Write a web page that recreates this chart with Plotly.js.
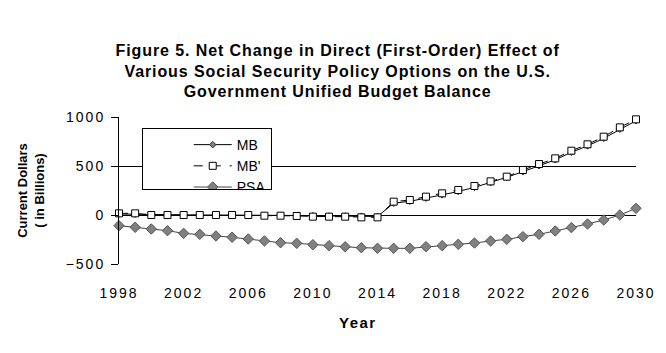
<!DOCTYPE html>
<html>
<head>
<meta charset="utf-8">
<script src="https://cdn.plot.ly/plotly-3.0.1.min.js"></script>
<style>
html,body{margin:0;padding:0;background:#fff;}
#chart{width:666px;height:353px;}
.legend .scrollbar{display:none;}
.gtitle{letter-spacing:0.9px;}
.xtick text,.ytick text{letter-spacing:2px;}
.annotation-text{letter-spacing:1.5px;}
</style>
</head>
<body>
<div id="chart"></div>
<script>
const years = [1998,1999,2000,2001,2002,2003,2004,2005,2006,2007,2008,2009,2010,2011,2012,2013,2014,2015,2016,2017,2018,2019,2020,2021,2022,2023,2024,2025,2026,2027,2028,2029,2030];
const mb = [10,8,0,0,0,0,0,0,-2,-3,-5,-5,-8,-10,-10,-12,-15,120,140,172,206,240,282,330,385,442,502,563,640,705,782,876,962];
const mbPrime = [17,17,0,0,0,0,0,0,0,-7,-7,-10,-17,-17,-17,-24,-24,136,153,187,221,255,296,343,391,459,520,578,656,721,799,894,976];
const psa = [-109,-125,-143,-160,-187,-197,-214,-227,-245,-265,-283,-289,-303,-313,-324,-334,-340,-340,-340,-323,-313,-299,-286,-265,-248,-221,-197,-163,-129,-92,-51,0,68];
const seriesNames = ["MB","MB'","PSA"];
const xTickVals = [1998,2002,2006,2010,2014,2018,2022,2026,2030];
const yTickVals = [-500,0,500,1000];

const font = 'Arial, "Liberation Sans", sans-serif';

const traces = [
  {x: years, y: mb, name: seriesNames[0], type: 'scatter', mode: 'lines+markers',
   line: {color: '#000', width: 1}, cliponaxis: false,
   marker: {symbol: 'diamond', size: 5, color: '#808080', line: {color: '#333', width: 1}}},
  {x: years, y: mbPrime, name: seriesNames[1], type: 'scatter', mode: 'lines+markers',
   line: {color: '#000', width: 1, dash: 'dash'}, cliponaxis: false,
   marker: {symbol: 'square', size: 7, color: '#fff', line: {color: '#000', width: 1}}},
  {x: years, y: psa, name: seriesNames[2], type: 'scatter', mode: 'lines+markers',
   line: {color: '#444', width: 1}, cliponaxis: false,
   marker: {symbol: 'diamond', size: 8, color: '#808080', line: {color: '#555', width: 1}}}
];

const layout = {
  width: 666, height: 353,
  margin: {l: 119, r: 30, t: 117, b: 89},
  paper_bgcolor: '#fff', plot_bgcolor: '#fff',
  font: {family: font, size: 14, color: '#000'},
  title: {text: '<b>Figure 5. Net Change in Direct (First-Order) Effect of<br>Various Social Security Policy Options on the U.S.<br>Government Unified Budget Balance</b>',
          font: {family: font, size: 16, color: '#000'},
          x: 0.507, xanchor: 'center', y: 0.842, yanchor: 'middle', yref: 'container'},
  showlegend: true,
  legend: {x: 0.044, y: 0.925, xanchor: 'left', yanchor: 'top', xref: 'paper', yref: 'paper',
           bgcolor: '#fff', bordercolor: '#000', borderwidth: 1,
           font: {family: font, size: 14, color: '#000'},
           indentation: 46, itemwidth: 38, maxheight: 62, tracegroupgap: 0, entrywidth: 40},
  xaxis: {range: [1998, 2030], tickvals: xTickVals, ticktext: xTickVals.map(String),
          ticks: 'outside', ticklen: 16, tickcolor: 'rgba(0,0,0,0)',
          showline: false, showgrid: false, zeroline: false,
          tickfont: {family: font, size: 14, color: '#000'}},
  xaxis2: {overlaying: 'x', anchor: 'free', position: 1/3, side: 'bottom',
           range: [1998, 2030], tick0: 1998, dtick: 2, ticks: 'outside', ticklen: 5,
           tickcolor: '#000', showticklabels: false, showline: true, linecolor: '#000',
           linewidth: 1, showgrid: false, zeroline: false},
  yaxis: {range: [-500, 1000], tickvals: yTickVals, ticks: 'outside', ticklen: 7,
          ticklabelstandoff: 3,
          tickcolor: '#000', showline: true, linecolor: '#000', linewidth: 1,
          showgrid: true, gridcolor: '#000', gridwidth: 1, zeroline: false,
          tickfont: {family: font, size: 14, color: '#000'},
          title: {text: '<b>Current Dollars<br>( in Billions)</b>', font: {family: font, size: 13, color: '#000'}, standoff: 18}},
  annotations: [
    {text: '<b>Year</b>', xref: 'paper', yref: 'paper', x: 0.462, y: -0.40, xanchor: 'center', yanchor: 'middle',
     showarrow: false, font: {family: font, size: 15, color: '#000'}}
  ]
};

Plotly.newPlot('chart', traces, layout, {displayModeBar: false, staticPlot: true});
</script>
</body>
</html>
